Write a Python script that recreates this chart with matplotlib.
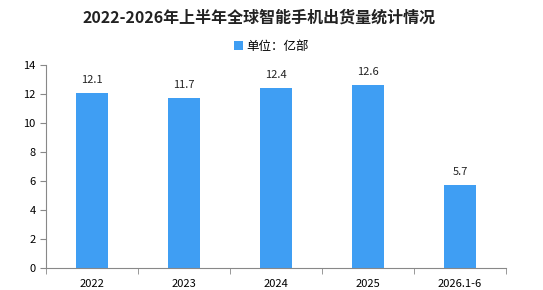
import matplotlib.pyplot as plt

plt.rcParams['font.family'] = ['Noto Sans CJK SC', 'DejaVu Sans']

categories = ["2022", "2023", "2024", "2025", "2026.1-6"]
values = [12.1, 11.7, 12.4, 12.6, 5.7]
value_labels = ["12.1", "11.7", "12.4", "12.6", "5.7"]

fig = plt.figure(figsize=(5.43, 2.90), dpi=100)
ax = fig.add_axes([0.085, 0.076, 0.847, 0.700])

bars = ax.bar(range(len(categories)), values, width=0.35, color="#3f9ef3", label="单位：亿部")

# etiquetas de valor
for i, v in enumerate(values):
    ax.text(i, v + 0.55, value_labels[i], ha="center", va="bottom", fontsize=8, color="#222222")

ax.set_xlim(-0.5, len(categories) - 0.5)
ax.set_ylim(0, 14)
ax.set_yticks(range(0, 15, 2))
ax.set_xticks(range(len(categories)))
ax.set_xticklabels(categories)
ax.set_xticks([i + 0.5 for i in range(-1, len(categories))], minor=True)
ax.tick_params(axis="x", which="major", length=0, labelsize=8, pad=8)
ax.tick_params(axis="x", which="minor", length=4, color="#888888")
ax.tick_params(axis="y", labelsize=8, length=4, color="#888888")

for s in ["top", "right"]:
    ax.spines[s].set_visible(False)
ax.spines["left"].set_color("#888888")
ax.spines["bottom"].set_color("#888888")

fig.text(0.477, 0.94, "2022-2026年上半年全球智能手机出货量统计情况", ha="center", va="center",
         fontsize=11.5, fontweight="bold", color="#222222")
fig.legend(handles=[bars], loc="center", bbox_to_anchor=(0.5, 0.84), frameon=False,
           fontsize=9, handlelength=0.7, handleheight=0.7, handletextpad=0.3)

fig.savefig("out.png", dpi=100)
